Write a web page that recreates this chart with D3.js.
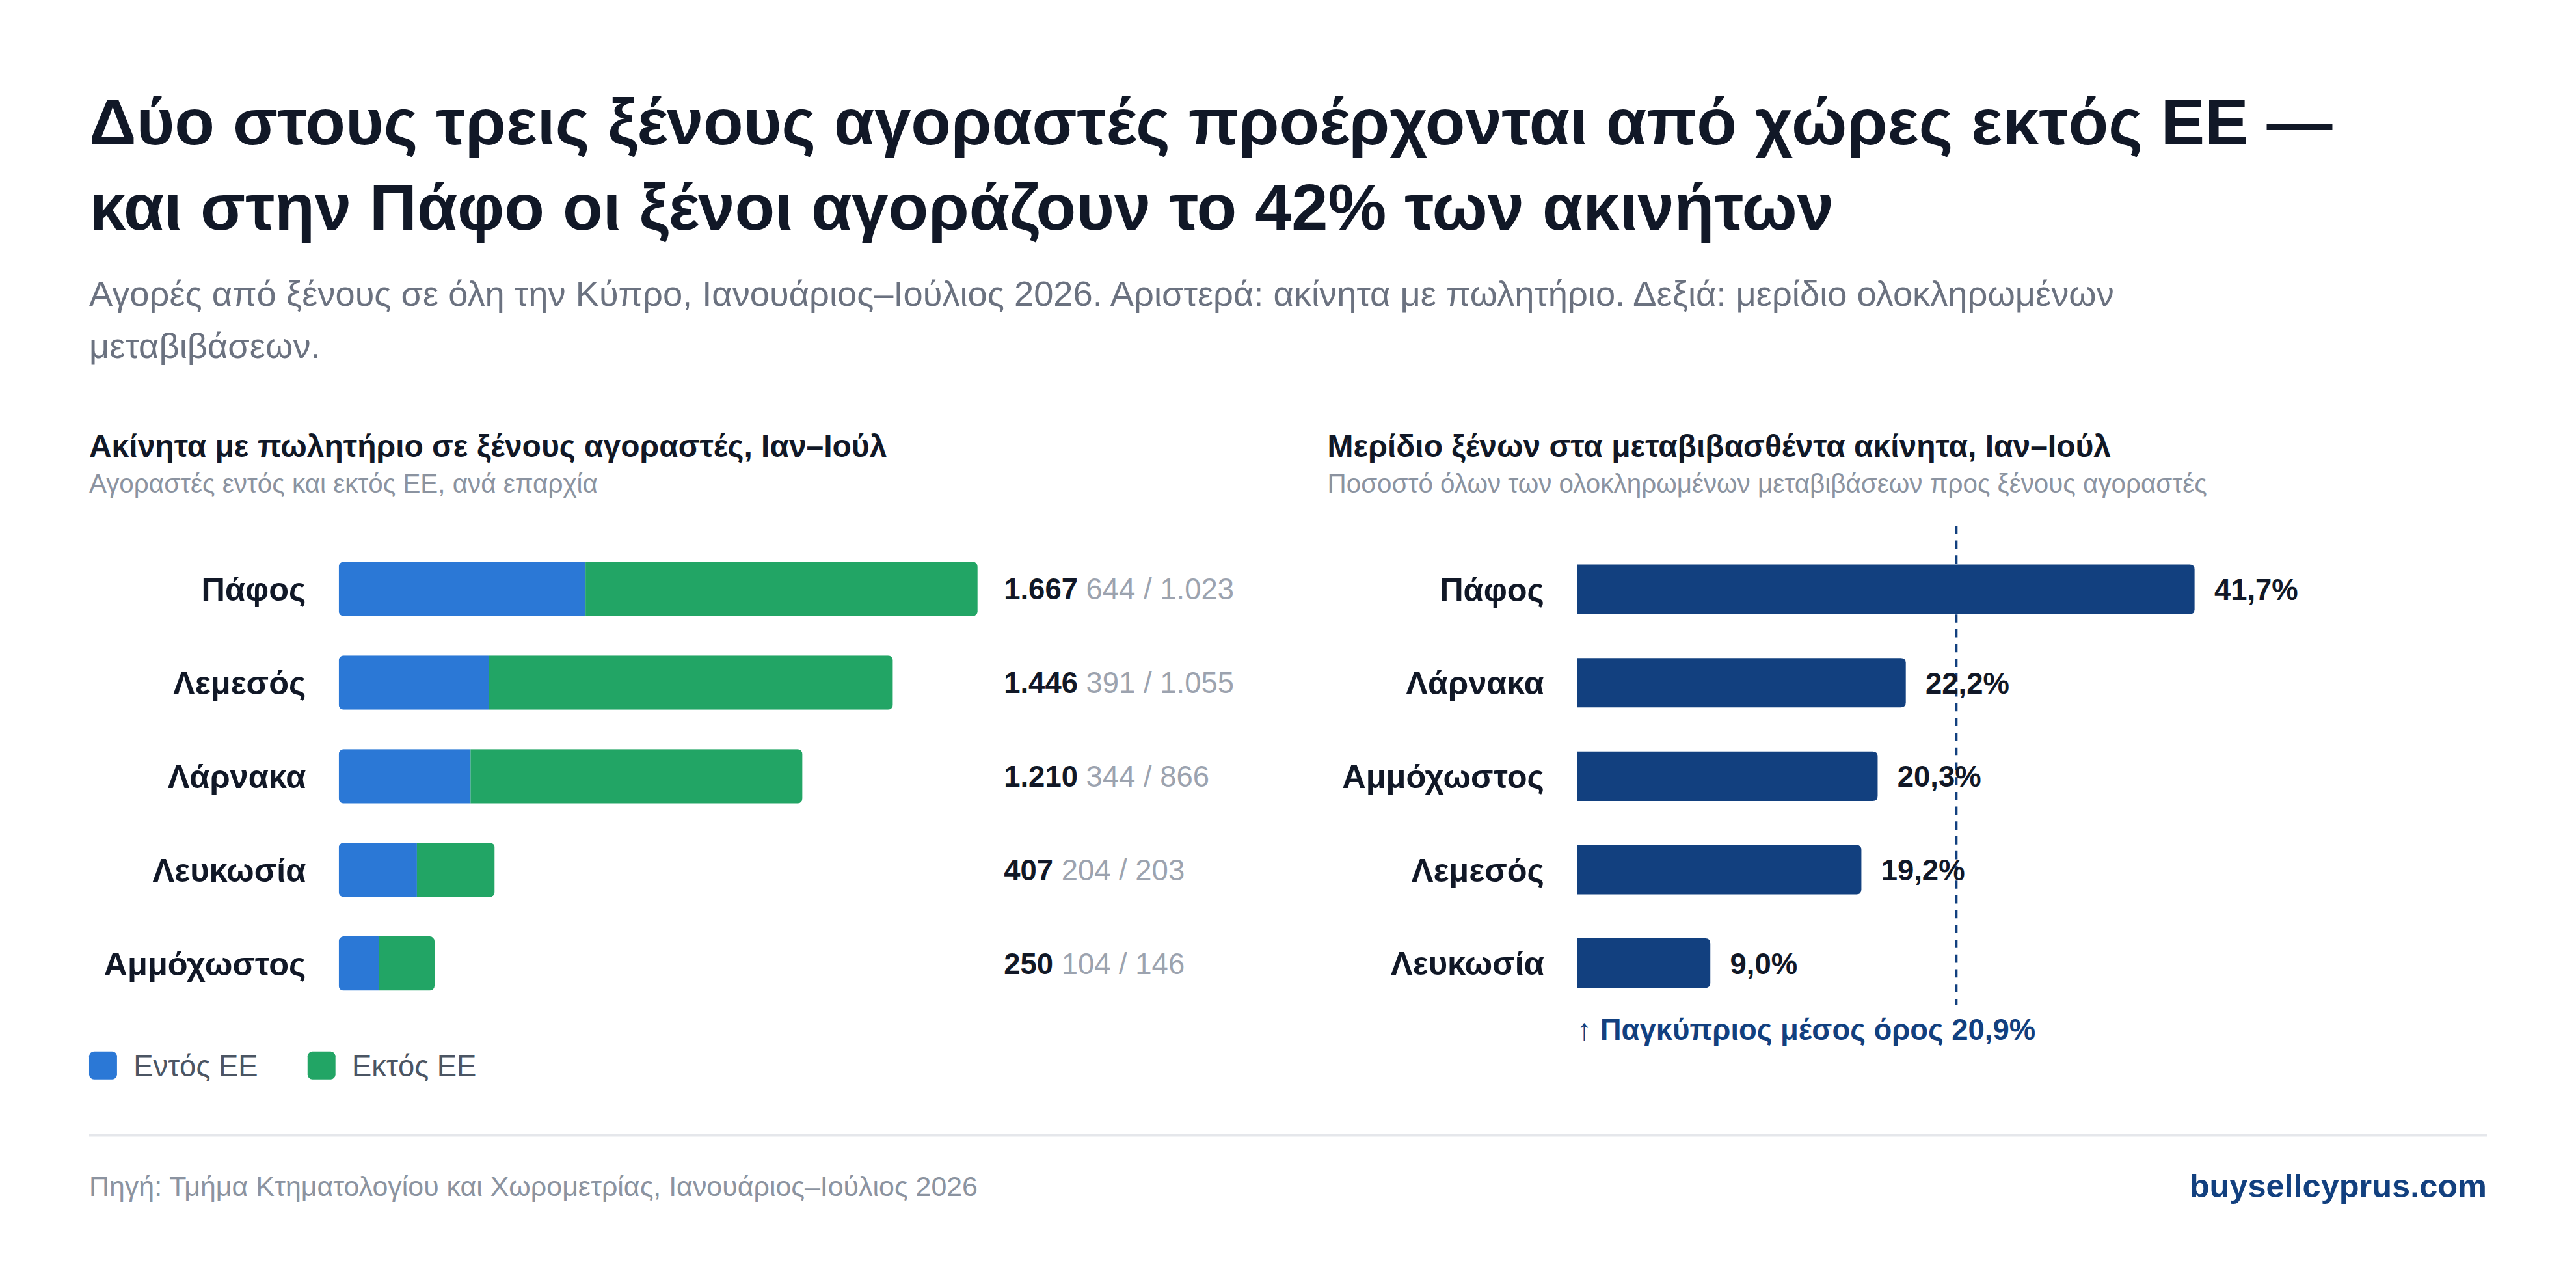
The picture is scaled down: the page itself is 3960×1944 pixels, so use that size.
<!DOCTYPE html>
<html><head><meta charset="utf-8">
<script src="https://cdn.jsdelivr.net/npm/d3@7"></script>
<style>
body{margin:0;background:#fff;}
svg{display:block;font-family:"Liberation Sans",Arial,sans-serif;}
</style></head>
<body>
<svg id="chart" width="3960" height="1944" viewBox="0 0 1568 770"></svg>
<script>
var leftRegions = ['Πάφος', 'Λεμεσός', 'Λάρνακα', 'Λευκωσία', 'Αμμόχωστος'];
var insideEU = [644, 391, 344, 204, 104];
var outsideEU = [1023, 1055, 866, 203, 146];
var rightRegions = ['Πάφος', 'Λάρνακα', 'Αμμόχωστος', 'Λεμεσός', 'Λευκωσία'];
var foreignShare = [41.7, 22.2, 20.3, 19.2, 9.0];
var averageShare = 20.9;

var fmtInt = function(v) { return d3.format(',')(v).replace(/,/g, '.'); };
var fmtPct = function(v) { return v.toFixed(1).replace('.', ',') + '%'; };

var svg = d3.select('#chart');
var navy = '#12407f', dark = '#111827';

svg.append('text').attr('x', 54).attr('y', 88).attr('font-size', 40).attr('font-weight', 700).attr('fill', dark)
    .text('Δύο στους τρεις ξένους αγοραστές προέρχονται από χώρες εκτός ΕΕ —');
svg.append('text').attr('x', 54).attr('y', 140).attr('font-size', 40).attr('font-weight', 700).attr('fill', dark)
    .text('και στην Πάφο οι ξένοι αγοράζουν το 42% των ακινήτων');
svg.append('text').attr('x', 54).attr('y', 186).attr('font-size', 21.5).attr('fill', '#6b7280')
    .text('Αγορές από ξένους σε όλη την Κύπρο, Ιανουάριος–Ιούλιος 2026. Αριστερά: ακίνητα με πωλητήριο. Δεξιά: μερίδιο ολοκληρωμένων');
svg.append('text').attr('x', 54).attr('y', 218).attr('font-size', 21.5).attr('fill', '#6b7280')
    .text('μεταβιβάσεων.');

function panelTitle(x, t, s) {
    svg.append('text').attr('x', x).attr('y', 278).attr('font-size', 19).attr('font-weight', 700).attr('fill', dark).text(t);
    svg.append('text').attr('x', x).attr('y', 300).attr('font-size', 16).attr('fill', '#8b93a0').text(s);
}
panelTitle(54, 'Ακίνητα με πωλητήριο σε ξένους αγοραστές, Ιαν–Ιούλ', 'Αγοραστές εντός και εκτός ΕΕ, ανά επαρχία');
panelTitle(808, 'Μερίδιο ξένων στα μεταβιβασθέντα ακίνητα, Ιαν–Ιούλ', 'Ποσοστό όλων των ολοκληρωμένων μεταβιβάσεων προς ξένους αγοραστές');

// left stacked bars
var yL = d3.scaleBand().domain(leftRegions).range([330, 615]).paddingInner(0.42).paddingOuter(0.21);
var xL = d3.scaleLinear().domain([0, 1667]).range([206, 595]);
var left = svg.append('g');
leftRegions.forEach(function(r, i) {
    var y = yL(r), h = yL.bandwidth(), tot = insideEU[i] + outsideEU[i];
    var clipId = 'cl' + i;
    left.append('clipPath').attr('id', clipId).append('rect')
        .attr('x', xL(0)).attr('y', y).attr('width', xL(tot) - xL(0)).attr('height', h).attr('rx', 3);
    var g = left.append('g').attr('clip-path', 'url(#' + clipId + ')');
    g.append('rect').attr('x', xL(0)).attr('y', y).attr('width', xL(insideEU[i]) - xL(0)).attr('height', h).attr('fill', '#2b78d6');
    g.append('rect').attr('x', xL(insideEU[i])).attr('y', y).attr('width', xL(tot) - xL(insideEU[i])).attr('height', h).attr('fill', '#22a565');
    left.append('text').attr('x', 186).attr('y', y + h / 2).attr('dy', '0.36em').attr('text-anchor', 'end')
        .attr('font-size', 20).attr('font-weight', 700).attr('fill', dark).text(r);
    var t = left.append('text').attr('x', 611).attr('y', y + h / 2).attr('dy', '0.36em').attr('font-size', 18);
    t.append('tspan').attr('font-weight', 700).attr('fill', dark).text(fmtInt(tot));
    t.append('tspan').attr('fill', '#9ca3af').text(' ' + fmtInt(insideEU[i]) + ' / ' + fmtInt(outsideEU[i]));
});

// legend
[['Εντός ΕΕ', '#2b78d6', 54], ['Εκτός ΕΕ', '#22a565', 187]].forEach(function(l) {
    svg.append('rect').attr('x', l[2]).attr('y', 640).attr('width', 17).attr('height', 17).attr('rx', 3).attr('fill', l[1]);
    svg.append('text').attr('x', l[2] + 27).attr('y', 648.5).attr('dy', '0.36em').attr('font-size', 18).attr('fill', '#4b5563').text(l[0]);
});

// right bars
var yR = d3.scaleBand().domain(rightRegions).range([330, 615]).paddingInner(0.47).paddingOuter(0.24);
var xR = d3.scaleLinear().domain([0, 41.7]).range([960, 1336]);
var right = svg.append('g');
right.append('line').attr('x1', xR(averageShare) + 42.5).attr('x2', xR(averageShare) + 42.5)
    .attr('y1', 320).attr('y2', 612).attr('stroke', navy).attr('stroke-width', 1.5).attr('stroke-dasharray', '5,4');
rightRegions.forEach(function(r, i) {
    var y = yR(r), h = yR.bandwidth();
    right.append('path').attr('fill', navy)
        .attr('d', 'M' + xR(0) + ',' + y + 'H' + (xR(foreignShare[i]) - 3) + 'q3,0 3,3V' + (y + h - 3) + 'q0,3 -3,3H' + xR(0) + 'Z');
    right.append('text').attr('x', 940).attr('y', y + h / 2).attr('dy', '0.36em').attr('text-anchor', 'end')
        .attr('font-size', 20).attr('font-weight', 700).attr('fill', dark).text(r);
    right.append('text').attr('x', xR(foreignShare[i]) + 12).attr('y', y + h / 2).attr('dy', '0.36em')
        .attr('font-size', 18).attr('font-weight', 700).attr('fill', dark).text(fmtPct(foreignShare[i]));
});
svg.append('text').attr('x', 960).attr('y', 633).attr('font-size', 18).attr('font-weight', 700).attr('fill', navy)
    .text('↑ Παγκύπριος μέσος όρος ' + fmtPct(averageShare));

// footer
svg.append('line').attr('x1', 54).attr('x2', 1514).attr('y1', 691).attr('y2', 691).attr('stroke', '#e5e7eb').attr('stroke-width', 1.5);
svg.append('text').attr('x', 54).attr('y', 728).attr('font-size', 17).attr('fill', '#8b93a0')
    .text('Πηγή: Τμήμα Κτηματολογίου και Χωρομετρίας, Ιανουάριος–Ιούλιος 2026');
svg.append('text').attr('x', 1514).attr('y', 729).attr('text-anchor', 'end').attr('font-size', 20).attr('font-weight', 700).attr('fill', navy)
    .text('buysellcyprus.com');
</script>
</body></html>
